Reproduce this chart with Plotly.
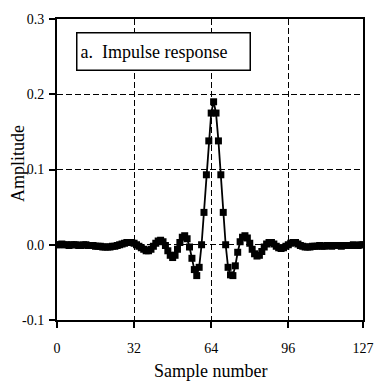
import plotly.graph_objects as go

# Sample numbers 0..127
samples = list(range(128))

# Amplitude values (windowed-sinc impulse response)
amplitude = [
    0.000, 0.000, 0.001, 0.000, 0.000, -0.001, 0.000, 0.000,      # 0-7
    0.000, -0.001, -0.001, 0.000, 0.000, -0.001, -0.001, -0.001,  # 8-15
    -0.002, -0.002, -0.002, -0.003, -0.003, -0.003, -0.003, -0.002,  # 16-23
    -0.002, -0.001, 0.000, 0.001, 0.002, 0.003, 0.003, 0.003,     # 24-31
    0.002, 0.000, -0.002, -0.004, -0.006, -0.008, -0.008, -0.006,  # 32-39
    -0.002, 0.002, 0.005, 0.006, 0.004, -0.001, -0.008, -0.014,   # 40-47
    -0.017, -0.014, -0.006, 0.003, 0.010, 0.012, 0.008, -0.003,   # 48-55
    -0.018, -0.033, -0.041, -0.030, 0.000, 0.043, 0.093, 0.138,   # 56-63
    0.175, 0.190, 0.175, 0.138, 0.093, 0.043, 0.000, -0.030,      # 64-71
    -0.040, -0.041, -0.028, -0.010, 0.004, 0.010, 0.012, 0.009,   # 72-79
    0.002, -0.006, -0.012, -0.015, -0.014, -0.009, -0.003, 0.001,  # 80-87
    0.003, 0.003, 0.001, -0.002, -0.004, -0.005, -0.004, -0.002,  # 88-95
    0.000, 0.002, 0.003, 0.003, 0.001, -0.001, -0.002, -0.003,    # 96-103
    -0.003, -0.003, -0.002, -0.002, -0.002, -0.001, -0.002, -0.002,  # 104-111
    -0.001, -0.001, -0.002, -0.001, -0.001, -0.001, -0.002, -0.001,  # 112-119
    -0.001, -0.001, -0.001, 0.000, -0.001, -0.001, 0.000, 0.000,  # 120-127
]

x_ticks = [0, 32, 64, 96, 127]
y_ticks = [-0.1, 0.0, 0.1, 0.2, 0.3]
y_tick_text = ["-0.1", "0.0", "0.1", "0.2", "0.3"]

SERIF = "Liberation Serif"

fig = go.Figure(
    go.Scatter(
        x=samples,
        y=amplitude,
        mode="lines+markers",
        line=dict(color="black", width=1.8),
        marker=dict(symbol="square", size=7, color="black"),
        showlegend=False,
    )
)

axis_common = dict(
    showline=True,
    linecolor="black",
    linewidth=2,
    mirror=True,
    ticks="outside",
    ticklen=6,
    tickwidth=1.5,
    tickcolor="black",
    showgrid=True,
    gridcolor="black",
    gridwidth=1.2,
    griddash="6px,3px",
    zeroline=False,
    tickfont=dict(family=SERIF, size=14, color="black"),
)

fig.update_layout(
    width=386,
    height=383,
    margin=dict(l=57, r=12, t=16, b=63),
    paper_bgcolor="white",
    plot_bgcolor="white",
    xaxis=dict(range=[0, 127], tickvals=x_ticks, ticklabelstandoff=8, **axis_common),
    yaxis=dict(range=[-0.1, 0.3], tickvals=y_ticks, ticktext=y_tick_text,
               ticklabelstandoff=2, **axis_common),
    annotations=[
        dict(text="Sample number", xref="paper", yref="paper", x=0.5, y=-0.168,
             xanchor="center", yanchor="middle", showarrow=False,
             font=dict(family=SERIF, size=18, color="black")),
        dict(text="Amplitude", xref="paper", yref="paper", x=-0.126, y=0.52,
             xanchor="center", yanchor="middle", textangle=-90, showarrow=False,
             font=dict(family=SERIF, size=18, color="black")),
        dict(text="a.  Impulse response", xref="paper", yref="paper",
             x=0.063, y=0.957, xanchor="left", yanchor="top", align="left",
             showarrow=False, bgcolor="white", bordercolor="black",
             borderwidth=1.5, borderpad=3, width=166, height=30,
             font=dict(family=SERIF, size=18, color="black")),
    ],
)

fig.write_html("out.html")
